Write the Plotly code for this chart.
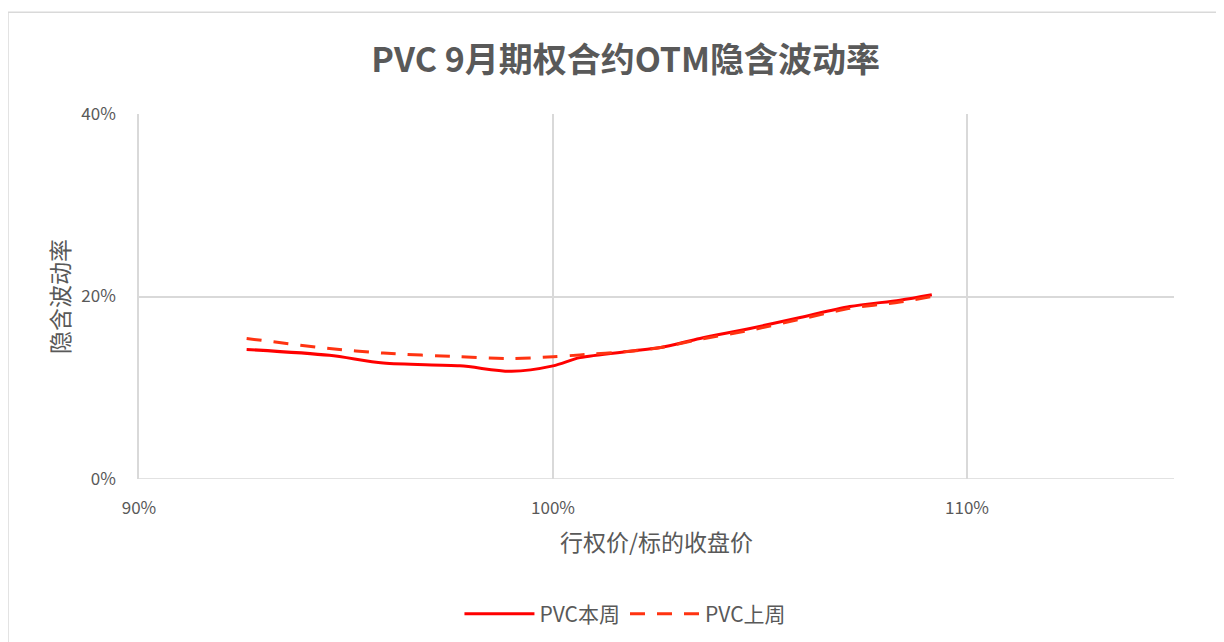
import plotly.graph_objects as go

# Data
moneyness = [0.926, 0.946, 0.959, 0.9775, 0.990, 1.000, 1.0065, 1.0186, 1.026, 1.0355, 1.0476, 1.0597, 1.0717, 1.0838, 1.0915]
iv_this_week = [0.142, 0.1355, 0.127, 0.124, 0.118, 0.124, 0.133, 0.140, 0.144, 0.154, 0.165, 0.177, 0.189, 0.196, 0.202]
iv_last_week = [0.154, 0.143, 0.138, 0.134, 0.132, 0.134, 0.136, 0.140, 0.144, 0.153, 0.163, 0.175, 0.187, 0.194, 0.200]

series_names = ["PVC本周", "PVC上周"]
title_text = "PVC 9月期权合约OTM隐含波动率"
x_title = "行权价/标的收盘价"
y_title = "隐含波动率"

FONT = "Noto Sans CJK SC, Noto Sans, sans-serif"
GRAY = "#595959"
GRID = "#D9D9D9"

fig = go.Figure()
fig.add_trace(go.Scatter(
    x=moneyness, y=iv_this_week, name=series_names[0], mode="lines",
    line=dict(color="#FF0000", width=3, shape="spline", smoothing=0.8),
))
fig.add_trace(go.Scatter(
    x=moneyness, y=iv_last_week, name=series_names[1], mode="lines",
    line=dict(color="#FF3311", width=3, shape="spline", smoothing=0.8, dash="15px,12px"),
))

fig.update_layout(
    width=1216, height=638,
    margin=dict(l=131, r=50, t=106, b=162),
    paper_bgcolor="white", plot_bgcolor="white",
    font=dict(family=FONT, color=GRAY, size=17),
    title=dict(text="<b>" + title_text + "</b>", x=0.508, xanchor="center", y=0.918, yanchor="middle",
               font=dict(size=34, color=GRAY, family=FONT)),
    xaxis=dict(range=[0.9, 1.15], dtick=0.1, tick0=0.9, tickformat=".0%",
               showgrid=True, gridcolor=GRID, gridwidth=1.5,
               showline=False, zeroline=False, ticks="", ticklen=0,
               ticklabelstandoff=17,
               tickfont=dict(size=17, color=GRAY),
               title=dict(text=x_title, font=dict(size=23, color=GRAY), standoff=16)),
    yaxis=dict(range=[0, 0.4], dtick=0.2, tickformat=".0%",
               showgrid=True, gridcolor=GRID, gridwidth=1.5,
               showline=True, linecolor=GRID, linewidth=1.5, mirror=False,
               zeroline=False, ticks="", ticklen=0,
               ticklabelstandoff=18,
               tickfont=dict(size=17, color=GRAY),
               title=dict(text=y_title, font=dict(size=23, color=GRAY), standoff=5)),
    legend=dict(orientation="h", x=0.47, xanchor="center", y=-0.37, yanchor="middle",
                font=dict(size=21, color=GRAY), itemwidth=70, bgcolor="rgba(0,0,0,0)"),
    showlegend=True,
)

# bottom axis line (0%)
fig.add_shape(type="line", xref="paper", yref="y", x0=0, x1=1, y0=0, y1=0,
              line=dict(color=GRID, width=1.5))
# chart area border
fig.add_shape(type="rect", xref="paper", yref="paper", x0=-0.1266, x1=1.06, y0=-0.47, y1=1.2787,
              line=dict(color=GRID, width=1.5), layer="below")

fig.write_html("out.html")
